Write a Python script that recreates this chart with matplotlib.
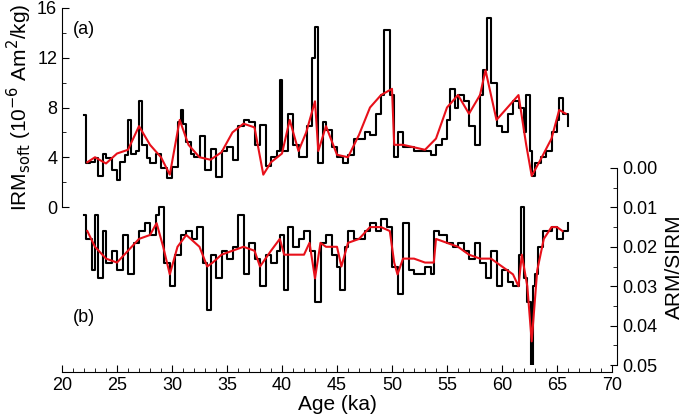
import matplotlib
matplotlib.use("Agg")
import matplotlib.pyplot as plt
from matplotlib.ticker import MultipleLocator

plt.rcParams['font.family'] = ['Liberation Sans', 'DejaVu Sans']

# IRM soft (step data)
irm_age = [22.0, 22.2, 22.5, 23.0, 23.3, 23.7, 24.0, 24.5, 25.0, 25.3, 25.7, 26.0, 26.3, 26.7,
           27.0, 27.3, 27.7, 28.0, 28.5, 29.0, 29.5, 30.0, 30.5, 30.8, 31.0, 31.3, 31.7, 32.0,
           32.5, 33.0, 33.5, 34.0, 34.5, 35.0, 35.5, 36.0, 36.5, 37.0, 37.5, 38.0, 38.5, 39.0,
           39.5, 39.8, 40.0, 40.5, 41.0, 41.5, 42.0, 42.3, 42.7, 43.0, 43.3, 43.7, 44.0, 44.5,
           45.0, 45.5, 46.0, 46.5, 47.0, 47.5, 48.0, 48.5, 49.0, 49.3, 49.8, 50.2, 50.5, 51.0,
           51.5, 52.0, 53.0, 53.5, 54.0, 54.5, 55.0, 55.3, 55.7, 56.0, 56.5, 57.0, 57.5, 58.0,
           58.3, 58.6, 59.0, 59.5, 60.0, 60.5, 61.0, 61.5, 62.0, 62.2, 62.5, 62.7, 63.0, 63.5,
           64.0, 64.5, 65.0, 65.2, 65.5, 66.0]
irm_val = [7.4, 3.5, 3.6, 3.9, 2.5, 4.3, 3.9, 3.0, 2.2, 3.6, 4.2, 7.0, 4.3, 4.5,
           8.5, 5.0, 3.9, 3.5, 4.3, 3.1, 2.3, 3.2, 6.8, 7.8, 6.7, 5.2, 4.3, 4.0,
           5.7, 3.0, 4.7, 2.4, 4.5, 4.8, 3.8, 6.5, 7.0, 6.8, 5.0, 6.6, 3.3, 4.0,
           4.5, 10.2, 4.5, 7.5, 5.0, 4.0, 4.0, 6.5, 12.0, 14.5, 3.5, 6.8, 6.2, 4.8,
           4.0, 3.5, 4.2, 5.5, 5.5, 6.0, 5.8, 7.5, 9.0, 14.2, 9.0, 4.0, 6.0, 4.8,
           4.8, 4.5, 4.5, 4.2, 5.0, 5.5, 7.0, 9.5, 8.0, 9.0, 8.5, 6.5, 5.0, 9.0,
           11.0, 15.2, 10.0, 6.5, 6.0, 7.5, 8.5, 8.0, 6.0, 9.0, 4.5, 2.5, 3.5, 4.0,
           4.5, 6.0, 7.0, 8.8, 7.5, 6.5]
# IRM soft smoothed
irm_s_age = [22.3, 23, 24, 25, 26, 27, 28, 29, 29.8, 30.7, 31.5, 32.5, 33.5, 34.5, 35.5, 36.5, 37.5,
             38.3, 39, 40, 40.7, 41.5, 42.2, 43.0, 43.3, 44, 45, 46, 47, 48, 49, 50, 50.2, 51,
             52, 53, 54, 55, 56, 57, 58, 58.5, 59.5, 60.5, 61.5, 62.2, 62.7, 63.5, 64.5, 65.2, 65.8]
irm_s_val = [3.6, 4.0, 3.5, 4.3, 4.6, 6.5, 5.0, 4.0, 2.6, 7.0, 5.0, 4.0, 3.8, 4.4, 6.0, 6.7, 6.4,
             2.6, 3.6, 4.3, 7.0, 4.5, 6.0, 8.5, 4.5, 6.5, 4.2, 4.0, 5.8, 8.0, 9.0, 9.5, 5.0, 5.0,
             4.8, 4.6, 5.5, 8.0, 9.0, 7.5, 9.0, 11.0, 7.0, 8.0, 9.0, 5.0, 2.5, 3.8, 5.5, 7.8, 7.5]

# ARM/SIRM (step data)
arm_age = [22.0, 22.2, 22.7, 23.0, 23.3, 23.7, 24.0, 24.5, 25.0, 25.5, 26.0, 26.5, 27.0, 27.5,
           28.0, 28.5, 28.8, 29.3, 29.8, 30.3, 30.8, 31.3, 31.8, 32.3, 32.8, 33.2, 33.5, 34.0,
           34.5, 35.0, 35.5, 36.0, 36.5, 37.0, 37.5, 38.0, 38.5, 39.0, 39.5, 39.8, 40.2, 40.5,
           41.0, 41.5, 42.0, 42.5, 43.0, 43.5, 44.0, 44.5, 45.0, 45.3, 45.7, 46.0, 46.5, 47.0,
           47.5, 48.0, 48.5, 49.0, 49.5, 50.0, 50.5, 51.0, 51.5, 52.0, 53.0, 53.5, 53.8, 54.3,
           55.0, 55.5, 56.0, 56.5, 57.0, 57.5, 58.0, 58.5, 59.0, 59.5, 60.0, 60.5, 61.0, 61.5,
           61.7, 62.0, 62.3, 62.6, 62.8, 63.0, 63.3, 63.7, 64.0, 64.5, 65.0, 65.5, 66.0]
arm_val = [0.012, 0.018, 0.026, 0.012, 0.028, 0.016, 0.024, 0.021, 0.026, 0.017, 0.027, 0.019,
           0.016, 0.014, 0.017, 0.012, 0.010, 0.024, 0.030, 0.022, 0.017, 0.016, 0.018, 0.015,
           0.024, 0.036, 0.022, 0.028, 0.021, 0.023, 0.020, 0.012, 0.027, 0.019, 0.023, 0.030,
           0.022, 0.024, 0.021, 0.017, 0.031, 0.015, 0.020, 0.018, 0.016, 0.021, 0.034, 0.019,
           0.017, 0.022, 0.025, 0.031, 0.020, 0.016, 0.018, 0.018, 0.016, 0.014, 0.016, 0.013,
           0.015, 0.025, 0.032, 0.014, 0.026, 0.027, 0.025, 0.027, 0.016, 0.017, 0.019, 0.020,
           0.019, 0.021, 0.023, 0.019, 0.024, 0.028, 0.021, 0.030, 0.026, 0.029, 0.030, 0.022,
           0.010, 0.028, 0.034, 0.050, 0.030, 0.027, 0.020, 0.016, 0.016, 0.015, 0.018, 0.016,
           0.014]
# ARM/SIRM smoothed
arm_s_age = [22.3, 23, 24, 25, 26, 27, 28, 28.6, 29.2, 29.8, 30.5, 31.3, 32.5, 33.2, 33.7, 34.5,
             35.5, 36.5, 37.5, 38.0, 39.0, 39.8, 40.2, 41.0, 42.0, 42.5, 43.0, 43.5, 44.0, 45.0,
             45.4, 46.0, 47.0, 48.0, 49.0, 49.8, 50.2, 50.5, 51.0, 52.0, 53.0, 53.8, 54.0, 55.0,
             56.0, 57.0, 58.0, 59.0, 60.0, 61.0, 61.5, 61.8, 62.3, 62.7, 63.2, 63.8, 64.5, 65.0,
             65.5]
arm_s_val = [0.016, 0.020, 0.023, 0.024, 0.021, 0.018, 0.017, 0.014, 0.020, 0.027, 0.020, 0.017,
             0.020, 0.025, 0.024, 0.022, 0.021, 0.020, 0.021, 0.025, 0.021, 0.018, 0.022, 0.022,
             0.022, 0.019, 0.028, 0.019, 0.020, 0.020, 0.025, 0.019, 0.018, 0.015, 0.015, 0.016,
             0.024, 0.027, 0.023, 0.023, 0.024, 0.024, 0.018, 0.019, 0.020, 0.022, 0.023, 0.023,
             0.025, 0.027, 0.030, 0.022, 0.030, 0.044, 0.026, 0.018, 0.015, 0.015, 0.016]

fig = plt.figure(figsize=(7, 4.2), dpi=100)
L, R = 62 / 700, 612 / 700

# x axis host
ax = fig.add_axes([L, 1 - 372 / 420, R - L, (372 - 8) / 420])
ax.set_xlim(20, 70)
ax.set_yticks([])
for s in ["top", "left", "right"]:
    ax.spines[s].set_visible(False)
ax.xaxis.set_major_locator(MultipleLocator(5))
ax.xaxis.set_minor_locator(MultipleLocator(1))
ax.tick_params(axis="x", direction="in", length=5, labelsize=13)
ax.tick_params(axis="x", which="minor", direction="in", length=3)
ax.set_xlabel("Age (ka)", fontsize=15, labelpad=1)
ax.patch.set_alpha(0)

# top panel
ax1 = fig.add_axes([L, 1 - 207 / 420, R - L, (207 - 8) / 420], sharex=ax)
ax1.patch.set_alpha(0)
ax1.step(irm_age, irm_val, where="post", color="black", lw=1.5)
ax1.plot(irm_s_age, irm_s_val, color="#e8101a", lw=1.5)
ax1.set_ylim(0, 16)
ax1.yaxis.set_major_locator(MultipleLocator(4))
ax1.yaxis.set_minor_locator(MultipleLocator(2))
ax1.tick_params(axis="y", direction="in", length=5, labelsize=13)
ax1.tick_params(axis="y", which="minor", direction="in", length=3)
ax1.tick_params(axis="x", which="both", bottom=False, labelbottom=False)
for s in ["top", "bottom", "right"]:
    ax1.spines[s].set_visible(False)
ax1.set_ylabel("IRM$_{\\rm soft}$ (10$^{-6}$ Am$^2$/kg)", fontsize=15, labelpad=2)
ax1.text(0.02, 0.87, "(a)", transform=ax1.transAxes, fontsize=13)

# bottom panel
ax2 = fig.add_axes([L, 1 - 365 / 420, 617 / 700 - L, (365 - 168) / 420])
ax2.patch.set_alpha(0)
ax2.set_xlim(20, 70 + 50 * 5 / 550)
ax2.step(arm_age, arm_val, where="post", color="black", lw=1.5)
ax2.plot(arm_s_age, arm_s_val, color="#e8101a", lw=1.5)
ax2.set_ylim(0.05, 0.0)
ax2.yaxis.tick_right()
ax2.yaxis.set_label_position("right")
ax2.yaxis.set_major_locator(MultipleLocator(0.01))
ax2.yaxis.set_minor_locator(MultipleLocator(0.005))
ax2.yaxis.set_major_formatter(plt.FormatStrFormatter("%.2f"))
ax2.tick_params(axis="y", direction="in", length=5, labelsize=13)
ax2.tick_params(axis="y", which="minor", direction="in", length=3)
ax2.tick_params(axis="x", which="both", bottom=False, labelbottom=False)
for s in ["top", "bottom", "left"]:
    ax2.spines[s].set_visible(False)
ax2.set_ylabel("ARM/SIRM", fontsize=15, labelpad=6)
ax2.text(0.02, 0.22, "(b)", transform=ax2.transAxes, fontsize=13)

fig.savefig("out.png", dpi=100)
